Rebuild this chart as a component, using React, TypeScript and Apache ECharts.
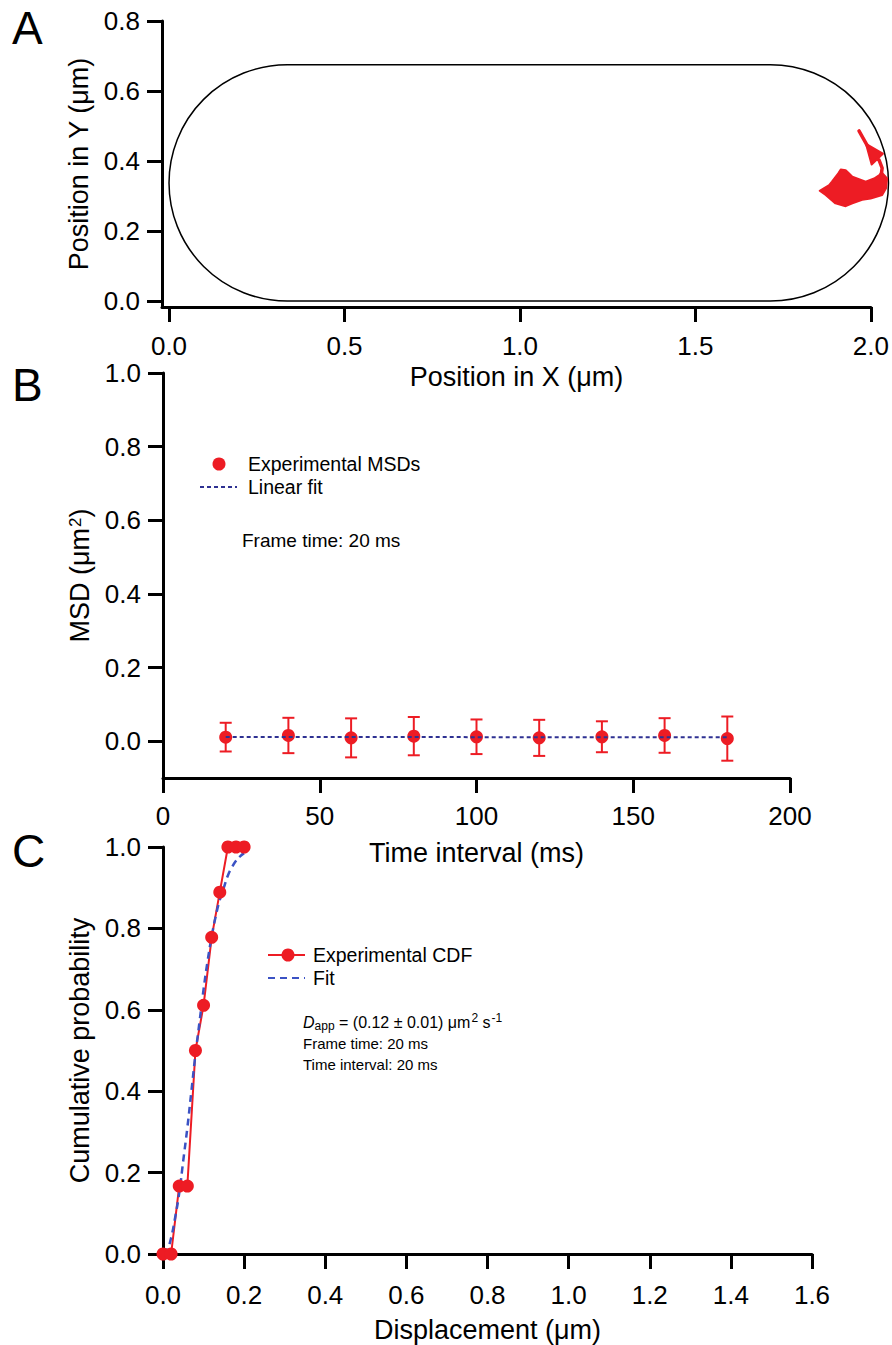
import React, { useEffect, useRef } from "react";
import * as echarts from "echarts";

const RED = "#ED1C24";
const NAVY = "#2E3192";
const BLUE = "#3B52C4";
const FONT = "'Liberation Sans', Arial, Helvetica, sans-serif";

// ---------- Panel A ----------
const aXTicks = [0, 0.5, 1.0, 1.5, 2.0];
const aYTicks = [0, 0.2, 0.4, 0.6, 0.8];
// cell outline: [xMin, yMin, xMax, yMax] (µm)
const cellOutline = [[0, 0, 2.05, 0.675]];
// trajectory: tail, arrow-like head and dense blob
const tailX = [1.966, 1.978, 1.992, 2.0, 2.012, 2.023, 2.032, 2.03, 2.028];
const tailY = [0.486, 0.465, 0.44, 0.425, 0.41, 0.403, 0.38, 0.365, 0.35];
const arrowX = [1.986, 2.034, 2.002];
const arrowY = [0.449, 0.421, 0.39];
const blobX = [1.854, 1.881, 1.889, 1.907, 1.914, 1.928, 1.937, 1.947, 1.985, 2.009, 2.024, 2.03, 2.046, 2.043, 2.032, 1.999, 1.975, 1.947, 1.928, 1.899, 1.871];
const blobY = [0.315, 0.331, 0.341, 0.365, 0.376, 0.374, 0.365, 0.355, 0.341, 0.35, 0.36, 0.368, 0.35, 0.322, 0.303, 0.293, 0.289, 0.279, 0.271, 0.279, 0.303];

// ---------- Panel B ----------
const lagTimes = [20, 40, 60, 80, 100, 120, 140, 160, 180];
const msdValues = [0.011, 0.0155, 0.009, 0.0137, 0.012, 0.009, 0.012, 0.0155, 0.007];
const msdErrors = [0.039, 0.048, 0.053, 0.052, 0.047, 0.049, 0.042, 0.047, 0.06];
const fitLag = [20, 180];
const fitMsd = [0.0115, 0.0105];
const bYTicks = [0, 0.2, 0.4, 0.6, 0.8, 1.0];

// ---------- Panel C ----------
const cdfDisp = [0, 0.02, 0.04, 0.06, 0.08, 0.1, 0.12, 0.14, 0.16, 0.18, 0.2];
const cdfProb = [0, 0, 0.167, 0.167, 0.5, 0.611, 0.778, 0.889, 1, 1, 1];
const fitDisp = [0, 0.01, 0.02, 0.03, 0.04, 0.05, 0.06, 0.07, 0.08, 0.09, 0.1, 0.11, 0.12, 0.13, 0.14, 0.15, 0.16, 0.17, 0.18, 0.19, 0.2];
const fitProb = [0, 0.01, 0.04, 0.09, 0.15, 0.23, 0.31, 0.4, 0.49, 0.57, 0.65, 0.72, 0.78, 0.83, 0.87, 0.9, 0.93, 0.95, 0.966, 0.977, 0.985];

const TICK_FS = 26;
const TITLE_FS = 27;

function axisBase(extra: any) {
  return {
    type: "value",
    axisLine: { show: true, onZero: false, lineStyle: { color: "#000", width: 3 } },
    axisTick: { show: true, length: 15, lineStyle: { color: "#000", width: 3 } },
    splitLine: { show: false },
    nameLocation: "middle",
    nameTextStyle: { fontSize: TITLE_FS, color: "#000", fontFamily: FONT },
    ...extra,
    axisLabel: { color: "#000", fontSize: TICK_FS, fontFamily: FONT, ...(extra.axisLabel || {}) },
  };
}

const fmt1 = (v: number) => v.toFixed(1);

export default function App() {
  const ref = useRef<HTMLDivElement>(null);
  useEffect(() => {
    const chart = echarts.init(ref.current!, null, { renderer: "svg" });
    const option: any = {
      animation: false,
      backgroundColor: "#fff",
      textStyle: { fontFamily: FONT },
      grid: [
        { left: 162, top: 21, width: 710, height: 286 },
        { left: 163, top: 373, width: 627, height: 405 },
        { left: 163, top: 847, width: 649, height: 407 },
      ],
      xAxis: [
        axisBase({
          gridIndex: 0, min: -0.02, max: 2.0,
          axisTick: { show: true, length: 15, lineStyle: { color: "#000", width: 3 }, customValues: aXTicks },
          axisLabel: { customValues: aXTicks, formatter: fmt1, margin: 26 },
          name: "Position in X (μm)", nameGap: 56,
        }),
        axisBase({
          gridIndex: 1, min: 0, max: 200, interval: 50,
          axisLabel: { margin: 25 },
          name: "Time interval (ms)", nameGap: 61,
        }),
        axisBase({
          gridIndex: 2, min: 0, max: 1.6, interval: 0.2,
          axisLabel: { formatter: fmt1, margin: 28 },
          name: "Displacement (μm)", nameGap: 62,
        }),
      ],
      yAxis: [
        axisBase({
          gridIndex: 0, min: -0.017, max: 0.8,
          axisTick: { show: true, length: 15, lineStyle: { color: "#000", width: 3 }, customValues: aYTicks },
          axisLabel: { customValues: aYTicks, formatter: fmt1, margin: 22 },
          name: "Position in Y (μm)", nameGap: 66,
        }),
        axisBase({
          gridIndex: 1, min: -0.1, max: 1.0,
          axisTick: { show: true, length: 15, lineStyle: { color: "#000", width: 3 }, customValues: bYTicks },
          axisLabel: { customValues: bYTicks, formatter: fmt1, margin: 22 },
          name: "{a|MSD (μm}{s|2}{a|)}", nameGap: 64,
          nameTextStyle: {
            color: "#000",
            rich: {
              a: { fontSize: TITLE_FS, fontFamily: FONT, color: "#000" },
              s: { fontSize: 17, fontFamily: FONT, color: "#000", verticalAlign: "top", padding: [0, 0, 0, 1] },
            },
          },
        }),
        axisBase({
          gridIndex: 2, min: 0, max: 1.0, interval: 0.2,
          axisLabel: { formatter: fmt1, margin: 22 },
          name: "Cumulative probability", nameGap: 66,
        }),
      ],
      series: [
        {
          type: "custom",
          name: "Cell outline",
          xAxisIndex: 0, yAxisIndex: 0,
          clip: false,
          data: cellOutline,
          encode: { x: [0, 2], y: [1, 3] },
          renderItem: (params: any, api: any) => {
            const p0 = api.coord([api.value(0), api.value(3)]);
            const p1 = api.coord([api.value(2), api.value(1)]);
            const w = p1[0] - p0[0];
            const h = p1[1] - p0[1];
            return {
              type: "rect",
              shape: { x: p0[0], y: p0[1], width: w, height: h, r: h / 2 },
              style: { fill: "none", stroke: "#000", lineWidth: 1.5 },
            };
          },
        },
        {
          type: "custom",
          name: "Trajectory",
          xAxisIndex: 0, yAxisIndex: 0,
          clip: false,
          data: blobX.map((x, i) => [x, blobY[i]]),
          renderItem: (params: any, api: any) => {
            if (params.dataIndex !== 0) return null;
            const blob = blobX.map((x, i) => api.coord([x, blobY[i]]));
            const arrow = arrowX.map((x, i) => api.coord([x, arrowY[i]]));
            const tail = tailX.map((x, i) => api.coord([x, tailY[i]]));
            return {
              type: "group",
              children: [
                { type: "polyline", shape: { points: tail }, style: { fill: "none", stroke: RED, lineWidth: 3.5, lineCap: "round", lineJoin: "round" } },
                { type: "polygon", shape: { points: blob }, style: { fill: RED, stroke: RED, lineWidth: 2, lineJoin: "round" } },
                { type: "polygon", shape: { points: arrow }, style: { fill: RED, stroke: RED, lineWidth: 2, lineJoin: "round" } },
              ],
            };
          },
        },
        // Panel B
        {
          type: "line",
          name: "Linear fit",
          xAxisIndex: 1, yAxisIndex: 1,
          data: fitLag.map((x, i) => [x, fitMsd[i]]),
          symbol: "none",
          lineStyle: { color: NAVY, width: 2, type: [4, 3] },
          z: 3,
        },
        {
          type: "custom",
          name: "Error bars",
          xAxisIndex: 1, yAxisIndex: 1,
          data: lagTimes.map((t, i) => [t, msdValues[i] - msdErrors[i], msdValues[i] + msdErrors[i]]),
          encode: { x: 0, y: [1, 2] },
          renderItem: (params: any, api: any) => {
            const x = api.value(0);
            const top = api.coord([x, api.value(2)]);
            const bot = api.coord([x, api.value(1)]);
            const w = 6;
            const st = { stroke: RED, lineWidth: 2 };
            return {
              type: "group",
              children: [
                { type: "line", shape: { x1: top[0], y1: top[1], x2: bot[0], y2: bot[1] }, style: st },
                { type: "line", shape: { x1: top[0] - w, y1: top[1], x2: top[0] + w, y2: top[1] }, style: st },
                { type: "line", shape: { x1: bot[0] - w, y1: bot[1], x2: bot[0] + w, y2: bot[1] }, style: st },
              ],
            };
          },
          z: 2,
        },
        {
          type: "scatter",
          name: "Experimental MSDs",
          xAxisIndex: 1, yAxisIndex: 1,
          data: lagTimes.map((t, i) => [t, msdValues[i]]),
          symbol: "circle",
          symbolSize: 13,
          itemStyle: { color: RED, opacity: 1 },
          z: 2,
        },
        // Panel C
        {
          type: "line",
          name: "Experimental CDF",
          xAxisIndex: 2, yAxisIndex: 2,
          data: cdfDisp.map((x, i) => [x, cdfProb[i]]),
          symbol: "circle",
          symbolSize: 13,
          clip: false,
          itemStyle: { color: RED, opacity: 1 },
          lineStyle: { color: RED, width: 2 },
        },
        {
          type: "line",
          name: "Fit",
          xAxisIndex: 2, yAxisIndex: 2,
          data: fitDisp.map((x, i) => [x, fitProb[i]]),
          symbol: "none",
          smooth: true,
          clip: false,
          lineStyle: { color: BLUE, width: 2.5, type: [7, 5] },
        },
      ],
      graphic: [
        { type: "text", x: 12, y: 28, style: { text: "A", fontSize: 46, fontFamily: FONT, fill: "#000", verticalAlign: "middle" } },
        { type: "text", x: 12, y: 385, style: { text: "B", fontSize: 46, fontFamily: FONT, fill: "#000", verticalAlign: "middle" } },
        { type: "text", x: 12, y: 851, style: { text: "C", fontSize: 46, fontFamily: FONT, fill: "#000", verticalAlign: "middle" } },
        // legend B
        { type: "circle", shape: { cx: 219, cy: 464, r: 6.5 }, style: { fill: RED } },
        { type: "text", x: 248, y: 464, style: { text: "Experimental MSDs", fontSize: 19.5, fontFamily: FONT, fill: "#000", verticalAlign: "middle" } },
        { type: "line", shape: { x1: 200, y1: 487, x2: 237, y2: 487 }, style: { stroke: NAVY, lineWidth: 2, lineDash: [4, 3] } },
        { type: "text", x: 248, y: 487, style: { text: "Linear fit", fontSize: 19.5, fontFamily: FONT, fill: "#000", verticalAlign: "middle" } },
        { type: "text", x: 242, y: 540, style: { text: "Frame time: 20 ms", fontSize: 19, fontFamily: FONT, fill: "#000", verticalAlign: "middle" } },
        // legend C
        { type: "line", shape: { x1: 268, y1: 955, x2: 305, y2: 955 }, style: { stroke: RED, lineWidth: 2 } },
        { type: "circle", shape: { cx: 288, cy: 955, r: 6.5 }, style: { fill: RED } },
        { type: "text", x: 313, y: 955, style: { text: "Experimental CDF", fontSize: 19.5, fontFamily: FONT, fill: "#000", verticalAlign: "middle" } },
        { type: "line", shape: { x1: 268, y1: 978, x2: 305, y2: 978 }, style: { stroke: BLUE, lineWidth: 2, lineDash: [7, 5] } },
        { type: "text", x: 313, y: 978, style: { text: "Fit", fontSize: 19.5, fontFamily: FONT, fill: "#000", verticalAlign: "middle" } },
        {
          type: "text", x: 303, y: 1022,
          style: {
            text: "{d|D}{b|app}{n| = (0.12 ± 0.01) μm}{p|2}{n| s}{p|-1}",
            verticalAlign: "middle",
            fill: "#000",
            rich: {
              d: { fontSize: 16, fontFamily: FONT, fontStyle: "italic", fill: "#000" },
              b: { fontSize: 12, fontFamily: FONT, fill: "#000", verticalAlign: "bottom", padding: [8, 0, 0, 0] },
              n: { fontSize: 16, fontFamily: FONT, fill: "#000" },
              p: { fontSize: 12, fontFamily: FONT, fill: "#000", verticalAlign: "top", padding: [0, 0, 8, 1] },
            },
          },
        },
        { type: "text", x: 303, y: 1043, style: { text: "Frame time: 20 ms", fontSize: 15, fontFamily: FONT, fill: "#000", verticalAlign: "middle" } },
        { type: "text", x: 303, y: 1064, style: { text: "Time interval: 20 ms", fontSize: 15, fontFamily: FONT, fill: "#000", verticalAlign: "middle" } },
      ],
    };
    chart.setOption(option);
    return () => chart.dispose();
  }, []);
  return <div ref={ref} style={{ position: "absolute", left: 0, top: 0, width: 892, height: 1345 }} />;
}
